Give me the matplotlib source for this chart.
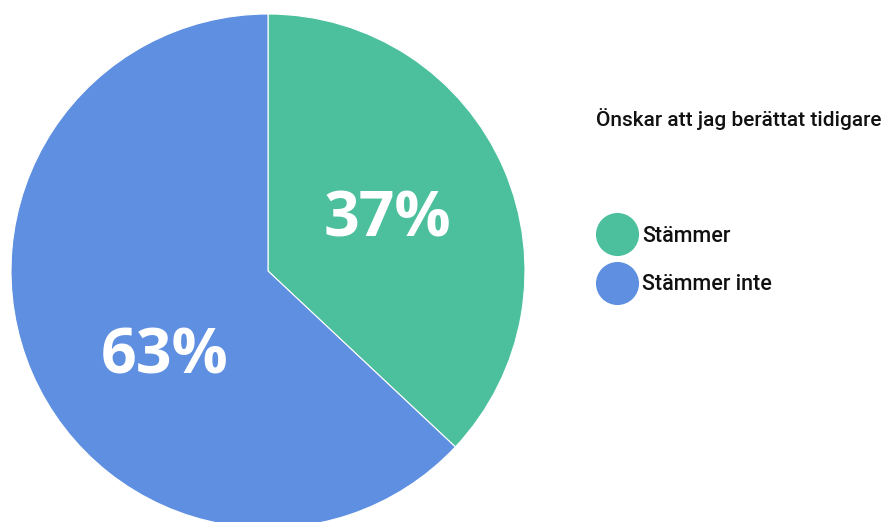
import matplotlib
matplotlib.use("Agg")
import matplotlib.pyplot as plt
from matplotlib.lines import Line2D

# data
categories = ["Stämmer", "Stämmer inte"]
shares = [37, 63]
colors = ["#4cc09d", "#5e8fe0"]
legend_title = "Önskar att jag berättat tidigare"

# where the % labels sit (offset from pie centre, in pixels)
label_offsets = [(119, 51), (-103, -86)]

fig = plt.figure(figsize=(8.87, 5.22), dpi=100)
ax = fig.add_axes([0, 0, 1, 1])

cx, cy = 268, 251
wedges, _, autotexts = ax.pie(
    shares, colors=colors, startangle=90, counterclock=False,
    center=(cx, cy), radius=257,
    autopct=lambda p: f"{p:.0f}%",
    wedgeprops=dict(linewidth=0.8, edgecolor="white"),
    textprops=dict(color="white", fontsize=45, fontweight="bold",
                   family=["Open Sans", "DejaVu Sans"]),
)
for t, (dx, dy) in zip(autotexts, label_offsets):
    t.set_position((cx + dx, cy + dy))
    t.set_va("center")
    t.set_ha("center")

ax.set_xlim(0, 887)
ax.set_ylim(0, 522)
ax.set_aspect("equal")
ax.axis("off")

# legend
fig.text(596 / 887, 1 - 119 / 522, legend_title, fontsize=15, fontweight="medium",
         family=["Roboto", "DejaVu Sans"], va="center", ha="left", color="#111111")
handles = [Line2D([], [], marker="o", ls="", markersize=30, color=c) for c in colors]
leg = fig.legend(handles, categories, loc="upper left",
                 bbox_to_anchor=(588 / 887, 1 - 217 / 522),
                 frameon=False, handlelength=1.9, handletextpad=0.22,
                 labelspacing=1.29, borderaxespad=0,
                 prop=dict(family=["Roboto", "DejaVu Sans"], size=15.5, weight="medium"))
for t in leg.get_texts():
    t.set_color("#111111")

fig.savefig("out.png", dpi=100)
